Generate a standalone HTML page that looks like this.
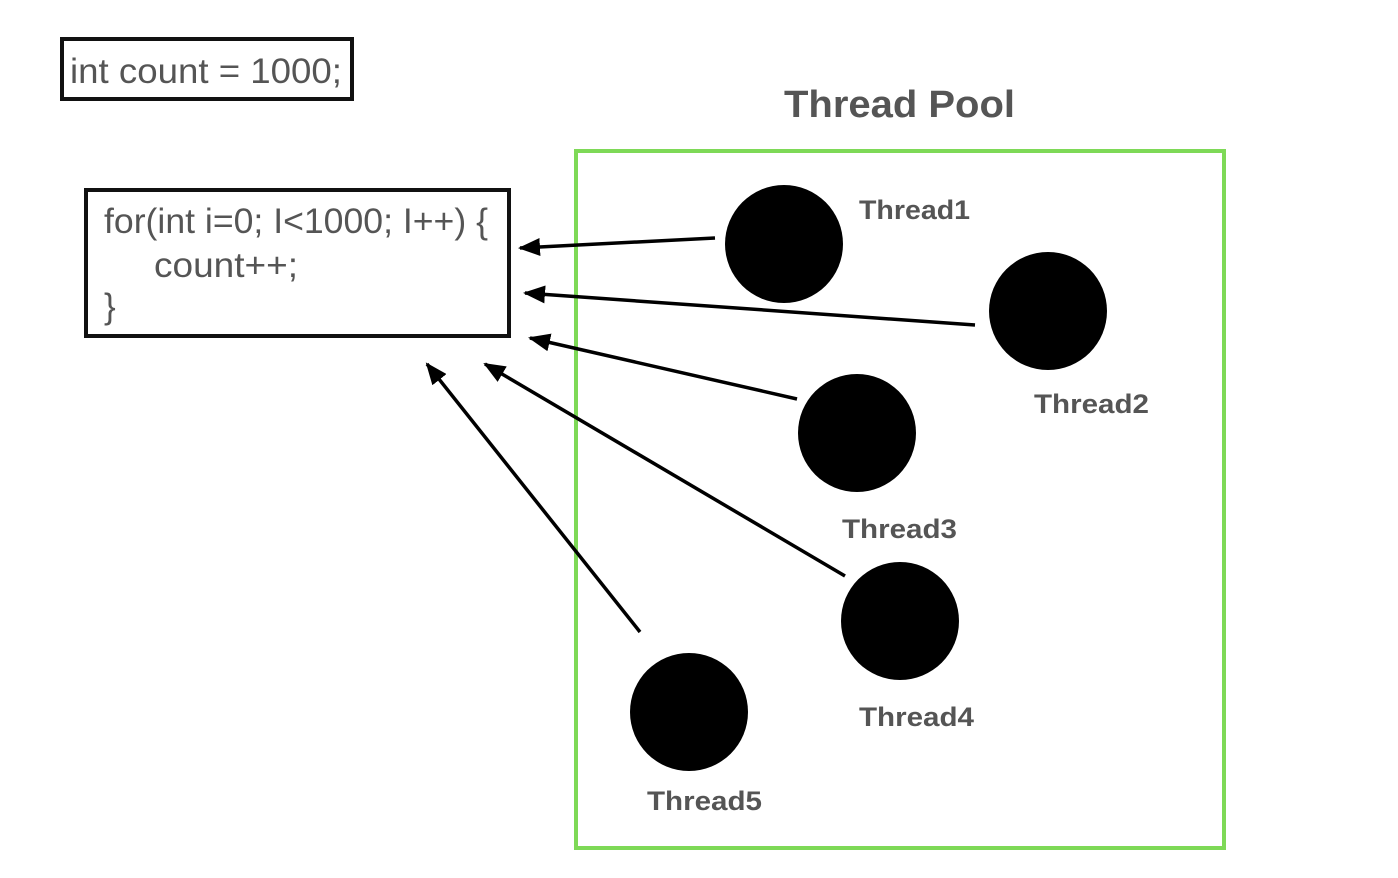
<!DOCTYPE html>
<html><head><style>
body{margin:0;width:1398px;height:878px;background:#fff;overflow:hidden}
svg{display:block}
text{font-family:"Liberation Sans",sans-serif;fill:#555}
.b{font-weight:bold;font-size:27px}
</style></head><body>
<svg width="1398" height="878" viewBox="0 0 1398 878">
<defs>
<marker id="h" viewBox="0 0 22 18" refX="20" refY="9" markerWidth="22" markerHeight="18" orient="auto" markerUnits="userSpaceOnUse"><path d="M0,0 L22,9 L0,18 z" fill="#000"/></marker></defs>
<rect x="62" y="39" width="290" height="60" fill="none" stroke="#111" stroke-width="4"/>
<text x="70" y="83" font-size="35" textLength="272" lengthAdjust="spacingAndGlyphs">int count = 1000;</text>
<rect x="86" y="190" width="423" height="146" fill="none" stroke="#111" stroke-width="4"/>
<text x="104" y="233" font-size="35" textLength="384" lengthAdjust="spacingAndGlyphs">for(int i=0; I&lt;1000; I++) {</text>
<text x="154" y="277" font-size="35" textLength="144" lengthAdjust="spacingAndGlyphs">count++;</text>
<text x="104" y="318" font-size="35">}</text>
<text x="784" y="117" font-size="38" font-weight="bold" textLength="231" lengthAdjust="spacingAndGlyphs">Thread Pool</text>
<rect x="576" y="151" width="648" height="697" fill="none" stroke="#7ed957" stroke-width="4"/>
<g stroke="#000" stroke-width="3.5" fill="none">
<line x1="715" y1="238" x2="520" y2="248" marker-end="url(#h)"/>
<line x1="975" y1="325" x2="525" y2="293" marker-end="url(#h)"/>
<line x1="797" y1="399" x2="530" y2="338" marker-end="url(#h)"/>
<line x1="845" y1="576" x2="485" y2="364" marker-end="url(#h)"/>
<line x1="640" y1="632" x2="427" y2="364" marker-end="url(#h)"/>
</g>
<g fill="#000">
<circle cx="784" cy="244" r="59"/>
<circle cx="1048" cy="311" r="59"/>
<circle cx="857" cy="433" r="59"/>
<circle cx="900" cy="621" r="59"/>
<circle cx="689" cy="712" r="59"/>
</g>
<text class="b" x="859" y="219" textLength="111" lengthAdjust="spacingAndGlyphs">Thread1</text>
<text class="b" x="1034" y="413" textLength="115" lengthAdjust="spacingAndGlyphs">Thread2</text>
<text class="b" x="842" y="538" textLength="115" lengthAdjust="spacingAndGlyphs">Thread3</text>
<text class="b" x="859" y="726" textLength="115" lengthAdjust="spacingAndGlyphs">Thread4</text>
<text class="b" x="647" y="810" textLength="115" lengthAdjust="spacingAndGlyphs">Thread5</text>
</svg>
</body></html>
